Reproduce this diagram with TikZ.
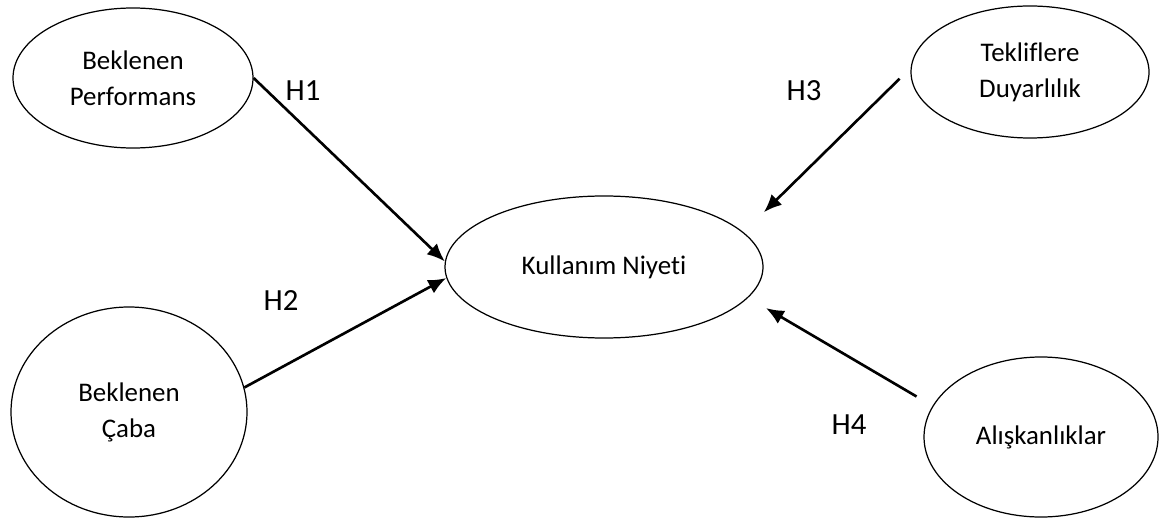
\documentclass[tikz,border=0pt]{standalone}
\usepackage{fontspec}
\setmainfont{Carlito}[Ligatures=NoCommon]
\usetikzlibrary{arrows.meta, shapes.geometric}

\tikzset{
  konstrukt/.style={draw, ellipse, line width=0.7pt, inner sep=0pt, align=center,
    font=\fontsize{15.3}{20.5}\selectfont},
  hipotez/.style={font=\fontsize{17.5}{21}\selectfont},
  yol/.style={->, line width=1.5pt}
}

\begin{document}
\begin{tikzpicture}[>={Latex[length=3.6mm, width=3mm]}]
  \useasboundingbox (0,0) rectangle (23.22,-10.4);
  % gizil degiskenler
  \node[konstrukt, minimum width=4.8cm, minimum height=2.8cm] (perf) at (2.66,-1.56) {Beklenen\\Performans};
  \node[konstrukt, minimum width=4.72cm, minimum height=4.2cm] (caba) at (2.58,-8.24) {Beklenen\\Çaba};
  \node[konstrukt, minimum width=6.36cm, minimum height=2.84cm] (niyet) at (12.08,-5.34) {Kullanım Niyeti};
  \node[konstrukt, minimum width=4.76cm, minimum height=2.64cm] (tek) at (20.6,-1.44) {Tekliflere\\Duyarlılık};
  \node[konstrukt, minimum width=4.68cm, minimum height=3.2cm] (alis) at (20.82,-8.74) {Alışkanlıklar};
  % yollar
  \draw[yol] (perf.east) -- (niyet.178);
  \draw[yol] (caba.12) -- (niyet.184);
  \draw[yol, shorten <=0.31cm, shorten >=0.57cm] (tek.178) -- (niyet.14);
  \draw[yol, shorten <=0.37cm, shorten >=0.41cm] (alis.164) -- (niyet.348);
  % hipotezler
  \node[hipotez] (h1) at (6.06,-1.82) {H1};
  \node[hipotez] (h2) at (5.62,-6.02) {H2};
  \node[hipotez] (h3) at (16.08,-1.82) {H3};
  \node[hipotez] (h4) at (16.98,-8.5) {H4};
\end{tikzpicture}
\end{document}
